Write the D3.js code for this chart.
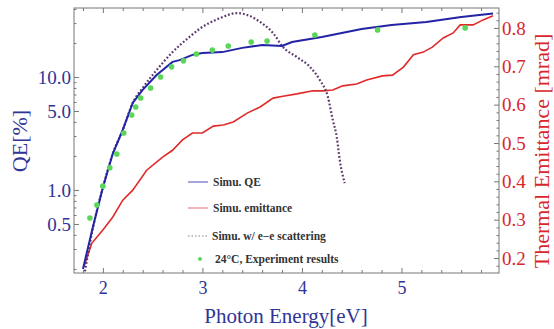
<!DOCTYPE html>
<html>
<head>
<meta charset="utf-8">
<script src="https://cdn.jsdelivr.net/npm/d3@7"></script>
<style>
  html, body { margin: 0; padding: 0; background: #fff; }
  #chart { width: 554px; height: 329px; }
  text { font-family: "Liberation Serif", "Times New Roman", serif; }
</style>
</head>
<body>
<div id="chart"></div>
<script>
// ---- Data ----
// Simulated QE (%) vs photon energy (eV)
const qeEnergy = [1.80, 1.90, 2.00, 2.10, 2.20, 2.30, 2.40, 2.54, 2.70, 2.77, 2.90, 3.00, 3.20, 3.40, 3.60, 3.80, 3.90, 4.20, 4.45, 4.60, 4.90, 5.25, 5.60, 5.92];
const qeSim    = [0.20, 0.47, 1.05, 2.1, 3.4, 5.9, 7.7, 10.4, 13.6, 14.1, 15.7, 16.3, 16.6, 18.1, 19.2, 18.8, 20.4, 22.6, 25.0, 26.6, 28.9, 30.7, 34.0, 36.5];

// Simulated thermal emittance (mrad)
const emitEnergy = [1.81, 1.89, 2.00, 2.10, 2.20, 2.30, 2.44, 2.60, 2.70, 2.80, 2.90, 3.00, 3.11, 3.21, 3.31, 3.45, 3.58, 3.71, 3.81, 3.95, 4.11, 4.21, 4.31, 4.41, 4.55, 4.65, 4.81, 4.91, 5.02, 5.12, 5.22, 5.31, 5.42, 5.52, 5.59, 5.72, 5.82, 5.92];
const emitSim    = [0.178, 0.239, 0.273, 0.307, 0.351, 0.377, 0.429, 0.463, 0.481, 0.508, 0.526, 0.526, 0.544, 0.547, 0.555, 0.578, 0.594, 0.617, 0.622, 0.628, 0.636, 0.636, 0.638, 0.649, 0.654, 0.664, 0.675, 0.677, 0.698, 0.730, 0.737, 0.750, 0.774, 0.787, 0.808, 0.808, 0.821, 0.832];

// Simulated QE with e-e scattering (%)
const eeEnergy = [1.82, 1.90, 2.00, 2.10, 2.20, 2.30, 2.40, 2.54, 2.70, 2.87, 2.97, 3.18, 3.35, 3.45, 3.58, 3.71, 3.81, 3.95, 4.08, 4.18, 4.26, 4.31, 4.35, 4.38, 4.43];
const eeQE     = [0.19, 0.46, 1.05, 2.1, 3.4, 5.9, 8.0, 11.5, 16.6, 22.6, 26.6, 33.3, 36.8, 35.4, 30.7, 24.5, 18.4, 15.0, 12.3, 9.4, 6.7, 4.16, 2.94, 1.84, 1.15];

// Experiment at 24°C (%)
const expEnergy = [1.87, 1.94, 2.00, 2.07, 2.14, 2.21, 2.29, 2.33, 2.38, 2.48, 2.58, 2.69, 2.81, 2.94, 3.10, 3.26, 3.49, 3.65, 4.13, 4.76, 5.64];
const expQE     = [0.565, 0.736, 1.08, 1.57, 2.08, 3.19, 4.61, 5.43, 6.52, 8.0, 10.0, 12.3, 13.9, 16.0, 17.3, 18.8, 20.4, 20.8, 23.5, 26.1, 27.2];

const xMajor = [2, 3, 4, 5];
const qeMajor = [0.5, 1, 5, 10];
const qeMinor = [0.2, 0.3, 0.4, 0.6, 0.7, 0.8, 0.9, 2, 3, 4, 6, 7, 8, 9, 20, 30, 40];
const emitMajor = [0.2, 0.3, 0.4, 0.5, 0.6, 0.7, 0.8];

const legendLabels = ['Simu. QE', 'Simu. emittance', 'Simu. w/ e\u2212e scattering', '24\u00B0C, Experiment results'];

// ---- Layout ----
const W = 554, H = 329;
const plot = { left: 74, right: 499, top: 8, bottom: 273 };
const BLUE = '#2323a6', RED = '#e02a2a', DOT = '#5c3a6e', GREEN = '#5ad65a';
const LBLUE = '#2f3496', LRED = '#d8262b';

const svg = d3.select('#chart').append('svg')
    .attr('width', W)
    .attr('height', H);

const x = d3.scaleLinear().domain([1.71, 5.98]).range([plot.left, plot.right]);
const yQE = d3.scaleLog().domain([0.184, 40.8]).range([plot.bottom, plot.top]);
const yEm = d3.scaleLinear().domain([0.161, 0.852]).range([plot.bottom, plot.top]);

const xMinor = d3.range(1.8, 5.99, 0.2).map(d => +d.toFixed(1)).filter(d => !xMajor.includes(d));

// --- Axes (ticks point inward, Mathematica style) ---
function styleAxis(g, color, size) {
    g.select('.domain').remove();
    g.selectAll('line').attr('stroke', '#777');
    g.selectAll('text')
        .attr('fill', color)
        .style('font-size', size + 'px')
        .style('font-family', '"Liberation Serif", "Times New Roman", serif');
}

// bottom
svg.append('g')
    .attr('transform', `translate(0,${plot.bottom})`)
    .call(d3.axisBottom(x).tickValues(xMajor).tickSize(-5).tickPadding(8).tickFormat(d3.format('d')))
    .call(g => styleAxis(g, LBLUE, 18));
svg.append('g')
    .attr('transform', `translate(0,${plot.bottom})`)
    .call(d3.axisBottom(x).tickValues(xMinor).tickSize(-3).tickFormat(''))
    .call(g => styleAxis(g, LBLUE, 18));
// top
svg.append('g')
    .attr('transform', `translate(0,${plot.top})`)
    .call(d3.axisTop(x).tickValues(xMajor).tickSize(-5).tickFormat(''))
    .call(g => styleAxis(g, LBLUE, 18));
svg.append('g')
    .attr('transform', `translate(0,${plot.top})`)
    .call(d3.axisTop(x).tickValues(xMinor).tickSize(-3).tickFormat(''))
    .call(g => styleAxis(g, LBLUE, 18));
// left (log QE)
svg.append('g')
    .attr('transform', `translate(${plot.left},0)`)
    .call(d3.axisLeft(yQE).tickValues(qeMajor).tickSize(-5).tickPadding(3).tickFormat(d3.format('.1f')))
    .call(g => styleAxis(g, LBLUE, 19));
svg.append('g')
    .attr('transform', `translate(${plot.left},0)`)
    .call(d3.axisLeft(yQE).tickValues(qeMinor).tickSize(-2.5).tickFormat(''))
    .call(g => styleAxis(g, LBLUE, 19));
// right (emittance)
const emitMinor = d3.range(0.18, 0.85, 0.02).map(d => +d.toFixed(2)).filter(d => Math.abs(d * 10 - Math.round(d * 10)) > 1e-6);
svg.append('g')
    .attr('transform', `translate(${plot.right},0)`)
    .call(d3.axisRight(yEm).tickValues(emitMajor).tickSize(-5).tickPadding(3).tickFormat(d3.format('.1f')))
    .call(g => styleAxis(g, LRED, 19));
svg.append('g')
    .attr('transform', `translate(${plot.right},0)`)
    .call(d3.axisRight(yEm).tickValues(emitMinor).tickSize(-2.5).tickFormat(''))
    .call(g => styleAxis(g, LRED, 19));

// frame
svg.append('rect')
    .attr('x', plot.left).attr('y', plot.top)
    .attr('width', plot.right - plot.left)
    .attr('height', plot.bottom - plot.top)
    .attr('fill', 'none')
    .attr('stroke', '#777')
    .attr('stroke-width', 1);

// --- Series ---
const qeLine = d3.line().x(d => x(d[0])).y(d => yQE(d[1]));
const emLine = d3.line().x(d => x(d[0])).y(d => yEm(d[1]));

svg.append('path')
    .datum(d3.zip(emitEnergy, emitSim))
    .attr('d', emLine)
    .attr('fill', 'none')
    .attr('stroke', RED)
    .attr('stroke-width', 1.6);

svg.append('path')
    .datum(d3.zip(eeEnergy, eeQE))
    .attr('d', qeLine.curve(d3.curveMonotoneX))
    .attr('fill', 'none')
    .attr('stroke', DOT)
    .attr('stroke-width', 2.2)
    .attr('stroke-dasharray', '1.8,2');

svg.append('path')
    .datum(d3.zip(qeEnergy, qeSim))
    .attr('d', qeLine.curve(d3.curveLinear))
    .attr('fill', 'none')
    .attr('stroke', BLUE)
    .attr('stroke-width', 2);

svg.selectAll('.exp')
    .data(d3.zip(expEnergy, expQE))
    .enter().append('circle')
    .attr('class', 'exp')
    .attr('cx', d => x(d[0]))
    .attr('cy', d => yQE(d[1]))
    .attr('r', 2.8)
    .attr('fill', GREEN);

// --- Axis labels ---
svg.append('text')
    .attr('x', 286).attr('y', 323)
    .attr('text-anchor', 'middle')
    .attr('fill', LBLUE)
    .style('font-size', '21px')
    .text('Photon Energy[eV]');

svg.append('text')
    .attr('transform', 'translate(27,141) rotate(-90)')
    .attr('text-anchor', 'middle')
    .attr('fill', LBLUE)
    .style('font-size', '22px')
    .text('QE[%]');

svg.append('text')
    .attr('transform', 'translate(549,151) rotate(-90)')
    .attr('text-anchor', 'middle')
    .attr('fill', LRED)
    .style('font-size', '22px')
    .text('Thermal Emittance [mrad]');

// --- Legend ---
const legendY = [182, 208, 236, 259];
const legend = svg.append('g');
legendLabels.forEach((label, i) => {
    const y = legendY[i];
    if (i === 0 || i === 1) {
        legend.append('line')
            .attr('x1', 188).attr('x2', 208).attr('y1', y).attr('y2', y)
            .attr('stroke', i === 0 ? '#6a6ac0' : '#e88080')
            .attr('stroke-width', 1.2);
    } else if (i === 2) {
        legend.append('line')
            .attr('x1', 188).attr('x2', 208).attr('y1', y).attr('y2', y)
            .attr('stroke', '#8a7a90')
            .attr('stroke-width', 1.2)
            .attr('stroke-dasharray', '1.5,2');
    } else {
        legend.append('circle')
            .attr('cx', 200).attr('cy', y).attr('r', 2)
            .attr('fill', GREEN);
    }
    legend.append('text')
        .attr('x', i === 3 ? 215 : (i === 2 ? 212 : 213))
        .attr('y', y + 4)
        .attr('fill', '#333')
        .style('font-size', '11.5px')
        .style('font-weight', 'bold')
        .text(label);
});
</script>
</body>
</html>
